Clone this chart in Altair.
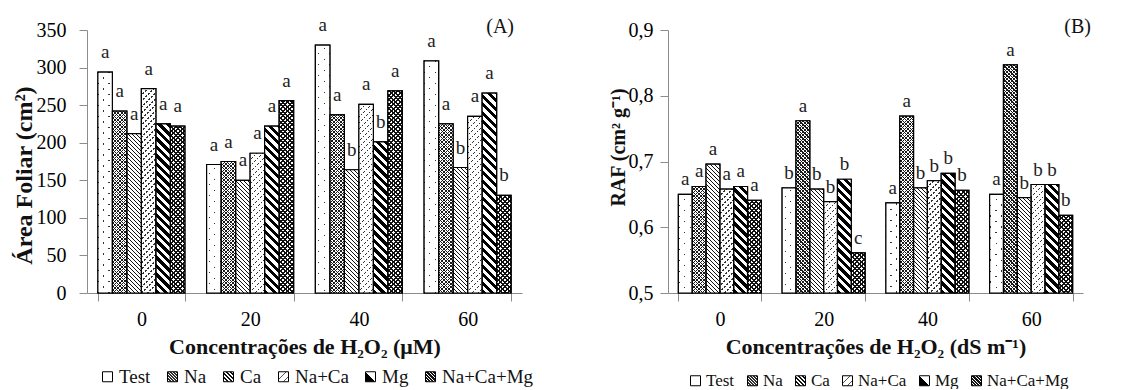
import math
import pandas as pd
import altair as alt

# ---------------- data ----------------
groups = ["0", "20", "40", "60"]
series = ["Test", "Na", "Ca", "Na+Ca", "Mg", "Na+Ca+Mg"]

area_0 = [294, 242, 212, 272, 225, 222]
area_20 = [171, 175, 150, 186, 222, 256]
area_40 = [330, 237, 164, 251, 201, 269]
area_60 = [309, 225, 167, 235, 266, 130]
area_letters_0 = ["a", "a", "a", "a", "a", "a"]
area_letters_20 = ["a", "a", "a", "a", "a", "a"]
area_letters_40 = ["a", "a", "b", "a", "b", "a"]
area_letters_60 = ["a", "a", "b", "a", "a", "b"]

raf_0 = [0.650, 0.662, 0.696, 0.658, 0.662, 0.641]
raf_20 = [0.660, 0.762, 0.658, 0.639, 0.673, 0.561]
raf_40 = [0.637, 0.769, 0.660, 0.671, 0.682, 0.656]
raf_60 = [0.650, 0.847, 0.645, 0.665, 0.665, 0.618]
raf_letters_0 = ["a", "a", "a", "a", "a", "a"]
raf_letters_20 = ["b", "a", "b", "b", "b", "c"]
raf_letters_40 = ["a", "a", "b", "b", "b", "b"]
raf_letters_60 = ["a", "a", "b", "b", "b", "b"]

area_ticks = [0, 50, 100, 150, 200, 250, 300, 350]
raf_ticks = [0.5, 0.6, 0.7, 0.8, 0.9]


def make_df(vals, labs):
    rows = []
    for g, vv, ll in zip(groups, vals, labs):
        for s, v, l in zip(series, vv, ll):
            rows.append({"g": g, "s": s, "v": v, "lab": l})
    return pd.DataFrame(rows)


df_area = make_df([area_0, area_20, area_40, area_60],
                  [area_letters_0, area_letters_20, area_letters_40, area_letters_60])
df_raf = make_df([raf_0, raf_20, raf_40, raf_60],
                 [raf_letters_0, raf_letters_20, raf_letters_40, raf_letters_60])

# ---------------- style ----------------
FONT = "'Liberation Serif', 'Times New Roman', Tinos, serif"
H = 263
WA, WB = 435, 415
PAD_IN, PAD_OUT = 0.2, 0.1
L = 320.0
CLEAR = "rgba(255,255,255,0)"


def bar_width(W):
    step = W / (len(groups) - PAD_IN + 2 * PAD_OUT)
    return step * (1 - PAD_IN) / len(series)


def stops_js(period, width, on, off, length):
    parts = []
    k = 0
    while k * period < length:
        s = k * period / length
        m = min((k * period + width) / length, 1.0)
        e = min((k + 1) * period / length, 1.0)
        parts += [(s, on), (m, on), (m, off), (e, off)]
        k += 1
    return "[" + ",".join("{offset:%.5f,color:'%s'}" % (o, c) for o, c in parts) + "]"


# base hatch layer and overlay hatch layer for each series
BASE = {
    "Test": ("\\", 11.0, 1.6, "#333333", "#ffffff"),
    "Na": ("\\", 3.5, 1.1, "#1a1a1a", "#ffffff"),
    "Ca": ("\\", 4.0, 1.1, "#111111", "#ffffff"),
    "Na+Ca": ("/", 6.0, 1.3, "#333333", "#ffffff"),
    "Mg": ("\\", 8.5, 4.3, "#000000", "#ffffff"),
    "Na+Ca+Mg": ("\\", 4.5, 2.0, "#111111", "#ffffff"),
}
OVER = {
    "Test": ("/", 11.0, 1.6, CLEAR, "#ffffff"),
    "Na": ("/", 3.5, 1.1, "#1a1a1a", CLEAR),
    "Na+Ca": ("\\", 5.0, 3.0, CLEAR, "#ffffff"),
    "Na+Ca+Mg": ("/", 4.5, 2.0, "#111111", CLEAR),
}


def bar_grad(spec, w):
    d, p, wd, on, off = spec
    st = stops_js(p, wd, on, off, L)
    if d == "\\":
        return ("{gradient:'linear',x1:0,y1:1,x2:%f*%f/datum.den,y2:1-datum.h*%f/datum.den,stops:%s}"
                % (w, L, L, st))
    return ("{gradient:'linear',x1:0,y1:0,x2:%f*%f/datum.den,y2:datum.h*%f/datum.den,stops:%s}"
            % (w, L, L, st))


def chain(mapping, w, default):
    expr = default
    for s, spec in reversed(list(mapping.items())):
        expr = "(datum.s==='%s' ? %s : %s)" % (s, bar_grad(spec, w), expr)
    return expr


def sym_grad(d, period, width, on, off):
    st = stops_js(period, width, on, off, 20.0)
    if d == "\\":
        return alt.ExprRef(expr="{gradient:'linear',x1:0,y1:1,x2:1,y2:0,stops:%s}" % st)
    return alt.ExprRef(expr="{gradient:'linear',x1:0,y1:0,x2:1,y2:1,stops:%s}" % st)


legend_range = [
    "#ffffff",
    sym_grad("\\", 3.0, 1.3, "#333333", "#ffffff"),
    sym_grad("\\", 4.0, 1.3, "#111111", "#ffffff"),
    sym_grad("/", 7.0, 1.2, "#555555", "#ffffff"),
    alt.ExprRef(expr="{gradient:'linear',x1:0,y1:1,x2:1,y2:0,stops:[{offset:0,color:'#000'},{offset:0.5,color:'#000'},{offset:0.5,color:'#fff'},{offset:1,color:'#fff'}]}"),
    sym_grad("\\", 3.4, 2.3, "#111111", "#ffffff"),
]


def panel(df, W, ymin, ymax, ticks, ytitle, ytitle_size, title_y, label_pad,
          xtitle, tag, tag_x, dy, leg_x, leg_y, leg_font, leg_col_pad, label_expr=None):
    w = bar_width(W)
    kpx = H / (ymax - ymin)
    yaxis_kwargs = dict(values=ticks, title=ytitle, labelPadding=label_pad, titlePadding=0,
                        titleFontSize=ytitle_size, titleY=title_y)
    if label_expr:
        yaxis_kwargs["labelExpr"] = label_expr
    base = alt.Chart(df).transform_calculate(
        h="(datum.v - %f) * %f" % (ymin, kpx)
    ).transform_calculate(
        den="%f + datum.h*datum.h" % (w * w)
    ).transform_calculate(
        g1=chain(BASE, w, "'#ffffff'"),
        g2=chain(OVER, w, "'transparent'"),
    ).encode(
        x=alt.X("g:N", sort=groups,
                scale=alt.Scale(paddingInner=PAD_IN, paddingOuter=PAD_OUT),
                axis=alt.Axis(title=xtitle, labelAngle=0, tickBand="extent",
                              labelPadding=8, titlePadding=7)),
        xOffset=alt.XOffset("s:N", sort=series, scale=alt.Scale(paddingInner=0, paddingOuter=0)),
        y=alt.Y("v:Q", scale=alt.Scale(domain=[ymin, ymax], zero=False, nice=False),
                axis=alt.Axis(**yaxis_kwargs)),
    )
    bars = base.encode(y2=alt.datum(ymin))
    legend_bars = bars.mark_bar(stroke="black", strokeWidth=1.2).encode(
        fill=alt.Fill("s:N", sort=series,
                      scale=alt.Scale(domain=series, range=legend_range),
                      legend=alt.Legend(title=None, orient="none", legendX=leg_x, legendY=leg_y,
                                        direction="horizontal", columns=6,
                                        labelFontSize=leg_font, columnPadding=leg_col_pad))
    )
    pat1 = bars.mark_bar(strokeWidth=0).encode(fill=alt.Fill("g1:N", scale=None, legend=None))
    pat2 = bars.mark_bar(strokeWidth=0).encode(fill=alt.Fill("g2:N", scale=None, legend=None))
    outline = bars.mark_bar(stroke="black", strokeWidth=1.2, fillOpacity=0).encode(
        detail="s:N")
    letters = base.mark_text(font=FONT, fontSize=19, color="#222222",
                             baseline="alphabetic", dy=dy).encode(text="lab:N")
    tag_layer = alt.Chart(pd.DataFrame({"t": [tag]})).mark_text(
        font=FONT, fontSize=20, align="right", baseline="middle", color="#111111"
    ).encode(text="t:N", x=alt.value(tag_x), y=alt.value(-3))
    return alt.layer(legend_bars, pat1, pat2, outline, letters, tag_layer).properties(
        width=W, height=H)


pA = panel(df_area, WA, 0, 350, area_ticks, "Área Foliar (cm²)", 24, 145, 13,
           "Concentrações de H₂O₂ (μM)", "(A)", WA - 8, -14,
           11, 337, 19, 12)
pB = panel(df_raf, WB, 0.5, 0.9, raf_ticks, "RAF (cm² g⁻¹)", 20, 117, 7,
           "Concentrações de H₂O₂ (dS m⁻¹)", "(B)", WB + 8, -9,
           19, 342, 17, 9,
           label_expr="replace(format(datum.value, '.1f'), '.', ',')")

chart = alt.hconcat(pA, pB, spacing=146, bounds="flush").resolve_scale(
    x="independent", y="independent", xOffset="independent", fill="independent"
).resolve_legend(fill="independent").properties(
    padding={"left": 4, "top": 8, "right": 5, "bottom": 0}
).configure_view(stroke=None).configure_axis(
    labelFont=FONT, titleFont=FONT, labelFontSize=20, titleFontSize=22,
    labelColor="#000000", titleColor="#111111", domainColor="#8c8c8c",
    tickColor="#8c8c8c", tickSize=8, grid=False, titleFontWeight="bold"
).configure_legend(
    symbolType="square", symbolSize=100, symbolStrokeColor="black", symbolStrokeWidth=1,
    labelFont=FONT, labelColor="#111111", labelOffset=2, padding=0
)

chart.save("out.html", embed_options={"renderer": "svg", "actions": False})
